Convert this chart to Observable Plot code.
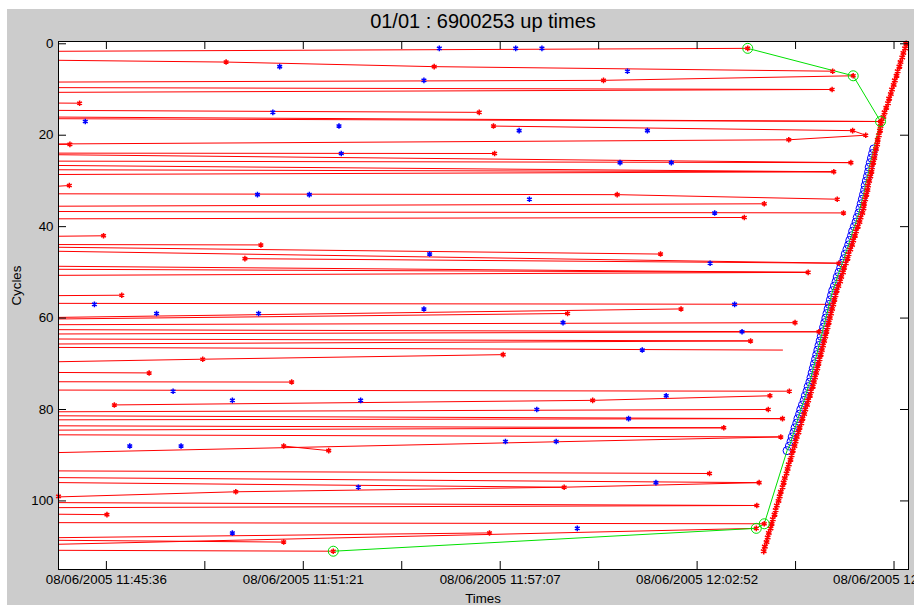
<!DOCTYPE html>
<html><head><meta charset="utf-8">
<script src="https://cdn.jsdelivr.net/npm/d3@7"></script>
<script src="https://cdn.jsdelivr.net/npm/@observablehq/plot@0.6"></script>
<style>
html,body{margin:0;padding:0;background:#fff;overflow:hidden;width:914px;height:605px;}
#fig{position:absolute;left:7px;top:9px;width:907px;height:596px;background:#cccccc;font-family:"Liberation Sans",Arial,sans-serif;color:#000;}
#title{position:absolute;left:51px;width:850px;top:0;height:24px;line-height:24px;text-align:center;font-size:20px;}
#chart{position:absolute;left:0;top:26px;}
#xlabel{position:absolute;left:51px;width:850px;top:582px;line-height:15px;text-align:center;font-size:13.3px;}
</style></head>
<body>
<div id="fig">
  <div id="title">01/01 : 6900253 up times</div>
  <div id="chart"></div>
  <div id="xlabel">Times</div>
</div>
<script>
// time values: seconds after 11:44:00 on 08/06/2005 ; y values: cycles
const xTicks = [96, 268.7, 441.4, 614.1, 786.8, 959.5, 1132.2, 1304.9, 1477.6];
const xTickLabels = ["08/06/2005 11:45:36", "", "08/06/2005 11:51:21", "", "08/06/2005 11:57:07", "", "08/06/2005 12:02:52", "", "08/06/2005 12:08:38"];
const yTicks = [0, 20, 40, 60, 80, 100];

// red diagonal markers: time for cycles 0..111
const diagTimes = [1499,1497,1494,1492,1489,1487,1484,1482,1479,1477,1474,1472,1469,1467,1464,1461,1459,1456,
 1454,1453,1451,1449,1448,1446,1444,1443,1441,1439,1438,1436,1434,1432,1431,1429,1427,1425,1424,
 1422,1419,1417,1414,1411,1409,1406,1404,1401,1398,1396,1393,1390,1388,1385,1383,1380,1377,
 1375,1373,1371,1369,1367,1365,1363,1361,1359,1357,1355,1353,1351,1349,1347,1345,1343,1341,1339,1337,
 1335,1332,1330,1327,1325,1322,1320,1317,1315,1312,1310,1307,1305,
 1303,1300,1298,1296,1293,1291,1289,1286,1284,1282,1279,1277,1275,1272,1270,1268,1265,1263,1261,1258,1256,1254,1251,1249];

// blue circles: cycles 23..89
const blueCircleFirstCycle = 23;
const blueCircleTimes = [1442,1440,1438,1436,1434,1433,1431,1429,1427,1426,
 1424,1422,1420,1418,1416,1413,1411,1408,1405,1403,
 1400,1398,1395,1392,1390,1387,1384,1381,1378,1376,
 1373,1370,1368,1366,1364,1362,1360,1358,1356,1354,
 1352,1350,1348,1346,1344,1342,1340,1338,1336,1334,
 1332,1330,1327,1325,1322,1320,1317,1314,1312,1309,
 1307,1304,1302,1299,1297,1294,1290];

// green circled points
const greenHeadTimes = [1221, 1406, 1454];
const greenHeadCycles = [1, 7, 17];
const greenTailTimes = [1250, 1236, 494];
const greenTailCycles = [105, 106, 111];

// red traces: [time, cycle] points
const redTraces = [
 [[12,1.64],[1221,1]],
 [[12,3.61],[306,4],[671,5],[1370,6]],
 [[12,8.37],[968,8],[1406,7]],
 [[12,9.59],[1369,10]],
 [[12,10.62],[1369,10]],
 [[12,12.97],[49,13]],
 [[12,14.57],[750,15]],
 [[12,16.03],[1454,17]],
 [[12,16.39],[1454,17]],
 [[775,18],[1405,19],[1428,20]],
 [[12,21.91],[1293,21],[1428,20]],
 [[12,22.02],[32,22]],
 [[12,23.92],[777,24]],
 [[12,24.27],[1402,26]],
 [[12,25.67],[1402,26]],
 [[12,26.62],[1372,28]],
 [[12,27.56],[1372,28]],
 [[12,28.59],[1372,28]],
 [[12,31.15],[31,31]],
 [[12,32.82],[992,33],[1378,34]],
 [[12,35.53],[1250,35]],
 [[12,36.69],[1389,37]],
 [[12,38.29],[1215,38]],
 [[12,42.1],[91,42]],
 [[12,43.92],[367,44]],
 [[12,44.51],[1068,46]],
 [[12,45.39],[1381,48]],
 [[339,47],[1381,48]],
 [[12,48.67],[1327,50]],
 [[12,49.33],[1327,50]],
 [[12,50.65],[1327,50]],
 [[12,55.09],[123,55]],
 [[12,56.78],[1367,57]],
 [[12,59.85],[1104,58]],
 [[12,60.2],[905,59]],
 [[12,61.45],[1304,61]],
 [[12,62.54],[1346,63]],
 [[12,63.48],[1346,63]],
 [[12,64.58],[1226,65]],
 [[12,65.67],[1226,65]],
 [[12,66.42],[1282,67]],
 [[12,69.55],[265,69],[792,68]],
 [[12,71.9],[171,72]],
 [[12,73.93],[421,74]],
 [[12,75.75],[1294,76]],
 [[110,79],[949,78],[1260,77]],
 [[12,80.5],[1257,80]],
 [[12,81.38],[1282,82]],
 [[12,82.26],[1282,82]],
 [[12,83.57],[1179,84]],
 [[12,84.51],[1179,84]],
 [[12,85.54],[1279,86]],
 [[407,88],[486,89]],
 [[12,89.42],[1279,86]],
 [[12,93.43],[1154,94]],
 [[12,94.9],[1241,96]],
 [[12,95.99],[899,97],[1241,96]],
 [[12,99.12],[323,98],[899,97]],
 [[12,100.37],[1237,101]],
 [[12,101.47],[1237,101]],
 [[12,102.91],[97,103]],
 [[12,104.75],[1250,105]],
 [[12,108.04],[768,107]],
 [[12,108.61],[407,109]],
 [[12,109.48],[1236,106]],
 [[12,110.8],[494,111]]
];

const redDotTimes = [306,671,49,32,31,968,1370,1369,750,775,1405,1428,1293,777,1402,1372,992,1378,1250,1389,1215,91,367,339,1068,1381,1327,123,1104,905,1304,1346,1226,792,265,171,421,1294,1260,949,110,1257,1282,1179,1279,407,486,1154,1241,899,323,12,1237,97,768,407,1221,1406,1454,1250,1236,494];
const redDotCycles = [4,5,13,22,31,8,6,10,15,18,19,20,21,24,26,28,33,34,35,37,38,42,44,47,46,48,50,55,58,59,61,63,65,68,69,72,74,76,77,78,79,80,82,84,86,88,89,94,96,97,98,99,101,103,107,109,1,7,17,105,106,111];

const blueDotTimes = [680,814,860,400,653,1010,388,59,504,820,1045,508,997,1087,361,452,838,1163,663,1155,75,184,363,653,1198,897,1211,1036,213,317,542,1078,851,1012,137,227,796,885,538,1060,317,922];
const blueDotCycles = [1,1,1,5,8,6,15,17,18,19,19,24,26,26,33,33,34,37,46,48,57,59,59,58,57,61,63,67,76,78,78,77,80,82,88,88,87,87,97,96,107,106];

// ---- build tables ----
const redPts = redTraces.flatMap((tr, id) => tr.map(([t, c]) => ({id, t, c})));
const diag = diagTimes.map((t, c) => ({t, c}));
const blueCircles = blueCircleTimes.map((t, i) => ({t, c: blueCircleFirstCycle + i}));
const greenHead = greenHeadTimes.map((t, i) => ({t, c: greenHeadCycles[i]}));
const greenTail = greenTailTimes.map((t, i) => ({t, c: greenTailCycles[i]}));
const greenPath = [...greenHead, ...blueCircles, ...greenTail];
const greenCircles = [...greenHead, ...greenTail];
const redDots = redDotTimes.map((t, i) => ({t, c: redDotCycles[i]}));
const blueDots = blueDotTimes.map((t, i) => ({t, c: blueDotCycles[i]}));
const labelMap = new Map(xTicks.map((v, i) => [v, xTickLabels[i]]));

const W = 907, H = 554, ML = 51, MR = 6, MT = 6, MB = 20;
const FW = W - ML - MR, FH = H - MT - MB, TL = 8;

const chart = Plot.plot({
  width: W, height: H,
  marginLeft: ML, marginRight: MR, marginTop: MT, marginBottom: MB,
  style: {background: "transparent", fontFamily: "'Liberation Sans', Arial, sans-serif", fontSize: "13.3px", color: "#000", overflow: "hidden"},
  x: {domain: [12, 1503], label: null},
  y: {domain: [-0.5, 115], reverse: true, label: null},
  marks: [
    Plot.frame({fill: "white", stroke: "none"}),
    Plot.line(redPts, {x: "t", y: "c", z: "id", stroke: "#ff0000", strokeWidth: 1}),
    Plot.dot(blueCircles, {x: "t", y: "c", r: 4, stroke: "#0000ff", strokeWidth: 1, fill: "none"}),
    Plot.line(greenPath, {x: "t", y: "c", stroke: "#00e000", strokeWidth: 1}),
    Plot.dot(diag, {x: "t", y: "c", symbol: "asterisk", r: 3, stroke: "#ff0000", strokeWidth: 1.6}),
    Plot.dot(redDots, {x: "t", y: "c", symbol: "asterisk", r: 2.6, stroke: "#ff0000", strokeWidth: 1.5}),
    Plot.dot(blueDots, {x: "t", y: "c", symbol: "asterisk", r: 2.6, stroke: "#0000ff", strokeWidth: 1.5}),
    Plot.dot(greenCircles, {x: "t", y: "c", r: 5, stroke: "#00dd00", strokeWidth: 1, fill: "none"}),
    Plot.frame({stroke: "#000", strokeWidth: 1}),
    Plot.tickY(yTicks, {y: d => d, insetRight: FW - TL, stroke: "#000"}),
    Plot.tickY(yTicks, {y: d => d, insetLeft: FW - TL, stroke: "#000"}),
    Plot.tickX(xTicks, {x: d => d, insetTop: FH - TL, stroke: "#000"}),
    Plot.tickX(xTicks, {x: d => d, insetBottom: FH - TL, stroke: "#000"}),
    Plot.axisY({ticks: yTicks, tickSize: 0, tickPadding: 5, label: null, fontSize: 13.3}),
    Plot.axisX({ticks: xTicks, tickSize: 0, tickPadding: 5, label: null, fontSize: 13.3, tickFormat: d => labelMap.get(d) ?? ""}),
    Plot.text(["Cycles"], {frameAnchor: "left", dx: -42, rotate: -90, fontSize: 13.3})
  ]
});
chart.style.overflow = "hidden";
document.getElementById("chart").appendChild(chart);
</script>
</body></html>
